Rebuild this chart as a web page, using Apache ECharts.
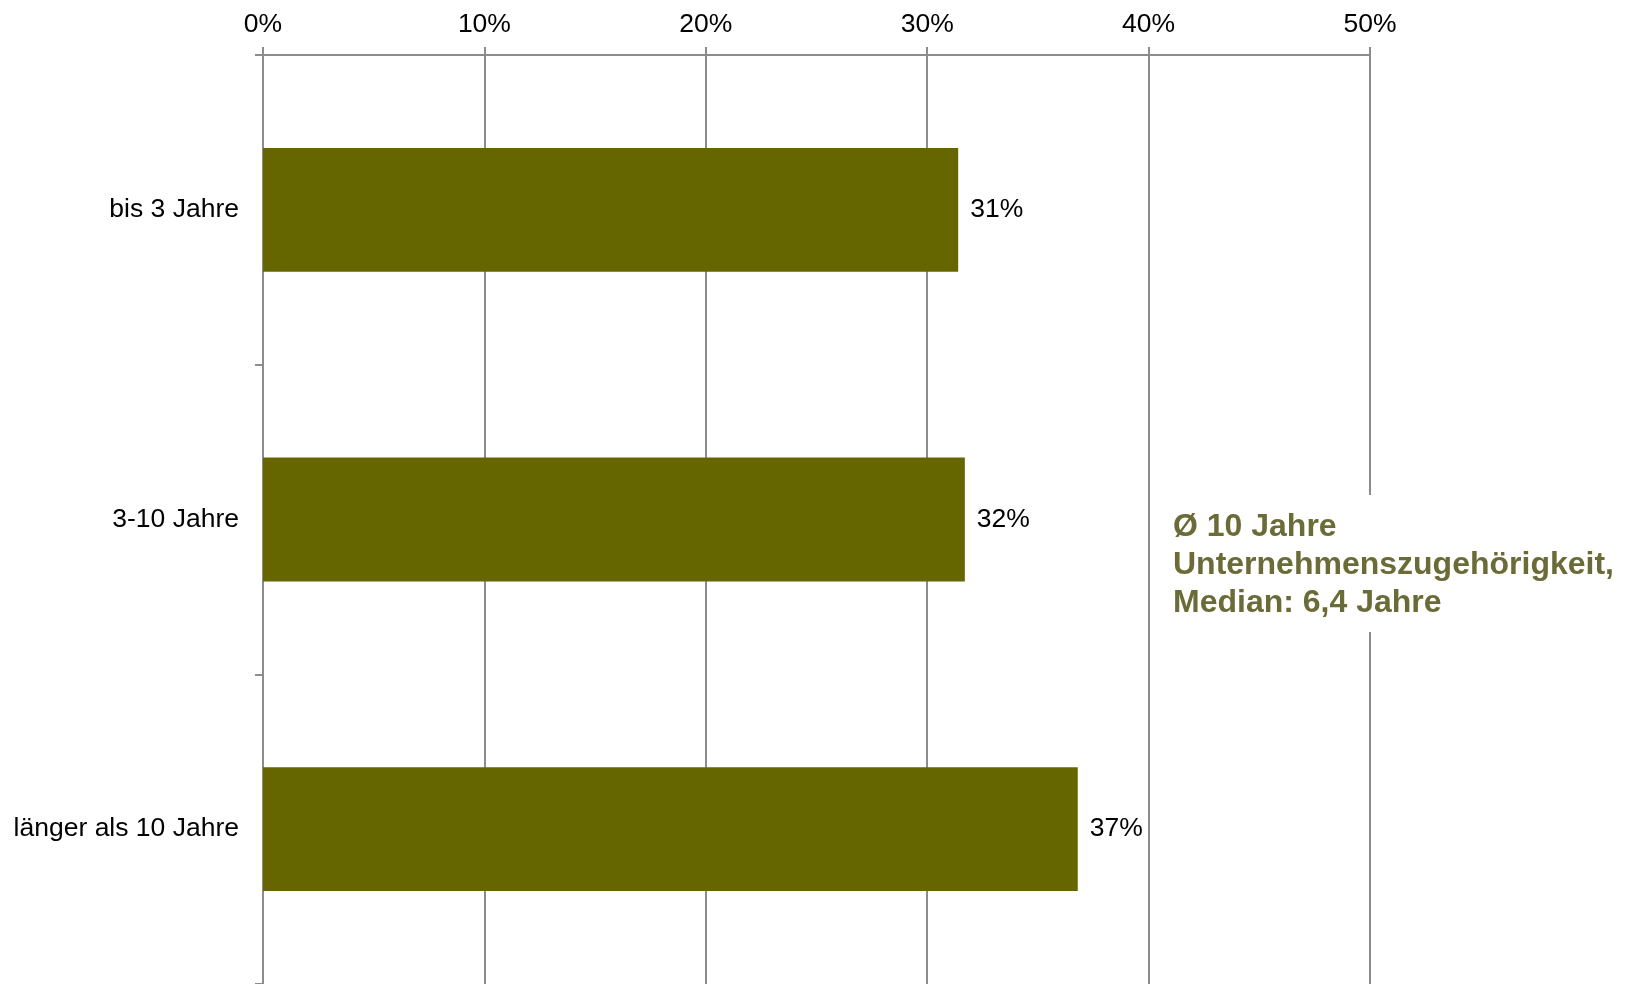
<!DOCTYPE html>
<html>
<head>
<meta charset="utf-8">
<script src="https://cdn.jsdelivr.net/npm/echarts@6/dist/echarts.min.js"></script>
<style>
  html, body { margin: 0; padding: 0; background: #ffffff; }
  #chart { width: 1625px; height: 984px; }
</style>
</head>
<body>
<div id="chart"></div>
<script>
// Unternehmenszugehörigkeit – Anteil der Befragten je Dauer
const categories = ['bis 3 Jahre', '3-10 Jahre', 'länger als 10 Jahre'];
const shares = [31.4, 31.7, 36.8];
const axisTicks = [0, 10, 20, 30, 40, 50];
const noteLines = ['Ø 10 Jahre', 'Unternehmenszugehörigkeit,', 'Median: 6,4 Jahre'];

const FONT = '"Liberation Sans", Arial, sans-serif';
const GRID_COLOR = '#8c8c8c';
const BAR_COLOR = '#666600';
const NOTE_COLOR = '#6b6b38';

const chart = echarts.init(document.getElementById('chart'), null, { renderer: 'canvas' });

chart.setOption({
  animation: false,
  backgroundColor: '#ffffff',
  grid: { left: 263, right: 255, top: 55, height: 933, containLabel: false },
  xAxis: {
    type: 'value',
    position: 'top',
    min: axisTicks[0],
    max: axisTicks[axisTicks.length - 1],
    interval: axisTicks[1] - axisTicks[0],
    axisLine: { show: true, lineStyle: { color: GRID_COLOR, width: 2 } },
    axisTick: { show: true, length: 8, lineStyle: { color: GRID_COLOR, width: 2 } },
    splitLine: { show: true, lineStyle: { color: GRID_COLOR, width: 2 } },
    axisLabel: {
      formatter: '{value}%',
      color: '#000000',
      fontFamily: FONT,
      fontSize: 26.5,
      margin: 17
    }
  },
  yAxis: {
    type: 'category',
    inverse: true,
    data: categories,
    axisLine: { show: true, lineStyle: { color: GRID_COLOR, width: 2 } },
    axisTick: { show: true, length: 8, alignWithLabel: false, lineStyle: { color: GRID_COLOR, width: 2 } },
    splitLine: { show: false },
    axisLabel: {
      color: '#000000',
      fontFamily: FONT,
      fontSize: 26.5,
      margin: 24
    }
  },
  series: [{
    type: 'bar',
    data: shares,
    barWidth: '40%',
    itemStyle: { color: BAR_COLOR },
    label: {
      show: true,
      position: 'right',
      distance: 12,
      color: '#000000',
      fontFamily: FONT,
      fontSize: 26.5,
      formatter: p => Math.round(p.value) + '%'
    }
  }],
  graphic: [
    {
      type: 'rect',
      left: 1152,
      top: 495,
      shape: { width: 473, height: 137 },
      style: { fill: '#ffffff' },
      z: 100
    },
    {
      type: 'text',
      x: 1173,
      y: 565,
      style: {
        text: noteLines.join('\n'),
        fill: NOTE_COLOR,
        font: 'bold 32px ' + FONT,
        lineHeight: 38,
        verticalAlign: 'middle',
        align: 'left'
      },
      z: 101
    }
  ]
});
</script>
</body>
</html>
